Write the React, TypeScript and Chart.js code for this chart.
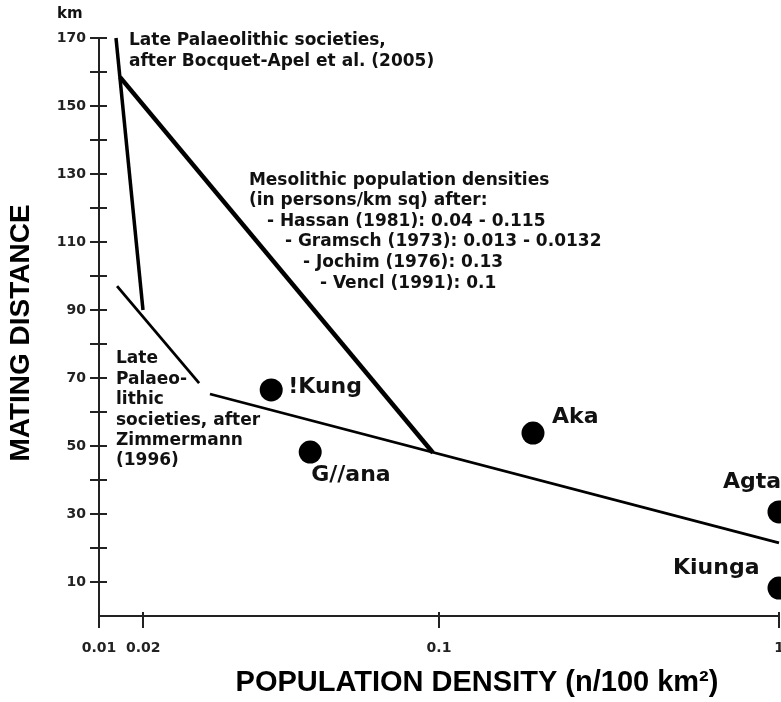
import React, { useEffect, useRef } from "react";
import { Chart, registerables } from "chart.js";

Chart.register(...registerables);

// ---- axis ticks ----
// The original figure puts its "0.02" tick well left of the true log position (~0.0135).
const xTickValues = [0.01, 0.0135, 0.1, 1];
const xTickLabels = ["0.01", "0.02", "0.1", "1"];
const yTickValues = [10, 20, 30, 40, 50, 60, 70, 80, 90, 100, 110, 120, 130, 140, 150, 160, 170];
const yTickLabels = ["10", "", "30", "", "50", "", "70", "", "90", "", "110", "", "130", "", "150", "", "170"];

// ---- lines (x = population density, y = mating distance km) ----
const bocquetX = [0.01122, 0.01347];
const bocquetY = [170, 90];
const mesolithicX = [0.01153, 0.096];
const mesolithicY = [158.5, 48];
const zimmermannX = [0.0113, 0.0197];
const zimmermannY = [97, 68.5];
const regressionX = [0.0212, 1];
const regressionY = [65.3, 21.5];

// ---- ethnographic societies ----
const societies = ["!Kung", "G//ana", "Aka", "Agta", "Kiunga"];
const societyDensity = [0.0321, 0.0418, 0.189, 1, 1];
const societyDistance = [66.5, 48.2, 53.8, 30.6, 8.2];

// ---- annotation text ----
const bocquetText = ["Late Palaeolithic societies,", "after Bocquet-Apel et al. (2005)"];
const mesolithicText = [
  "Mesolithic population densities",
  "(in persons/km sq) after:",
  "- Hassan (1981): 0.04 - 0.115",
  "- Gramsch (1973): 0.013 - 0.0132",
  "- Jochim (1976): 0.13",
  "- Vencl (1991): 0.1",
];
const zimmermannText = ["Late", "Palaeo-", "lithic", "societies, after", "Zimmermann", "(1996)"];

const xTitle = "POPULATION DENSITY (n/100 km\u00B2)";
const yTitle = "MATING DISTANCE";
const yUnit = "km";

const toPts = (xs: number[], ys: number[]) => xs.map((x, i) => ({ x, y: ys[i] }));

export default function App() {
  const ref = useRef<HTMLCanvasElement | null>(null);

  useEffect(() => {
    if (!ref.current) return;
    const annotFont = 'bold 17px "DejaVu Sans"';
    const labelOffsets = [
      [17, -3],
      [1, 23],
      [19, -16],
      [-56, -30],
      [-106, -20],
    ];
    const mesoIndent = [0, 0, 18, 36, 54, 71];

    const overlay = {
      id: "overlay",
      afterDatasetsDraw(chart: any) {
        const ctx = chart.ctx;
        const xs = chart.scales.x;
        const ys = chart.scales.y;
        const a = chart.chartArea;
        ctx.save();
        // crossing tick marks
        ctx.strokeStyle = "#222";
        ctx.lineWidth = 2;
        ys.ticks.forEach((t: any) => {
          const py = Math.round(ys.getPixelForValue(t.value));
          ctx.beginPath();
          ctx.moveTo(a.left - 9, py);
          ctx.lineTo(a.left + 8, py);
          ctx.stroke();
        });
        xs.ticks.forEach((t: any) => {
          const px = Math.round(xs.getPixelForValue(t.value));
          ctx.beginPath();
          ctx.moveTo(px, a.bottom - 4);
          ctx.lineTo(px, a.bottom + 12);
          ctx.stroke();
        });

        ctx.fillStyle = "#111";
        ctx.textBaseline = "middle";
        ctx.textAlign = "left";
        // unit
        ctx.font = 'bold 15px "DejaVu Sans"';
        ctx.fillText(yUnit, a.left - 42, a.top - 24);

        // annotation blocks
        ctx.font = annotFont;
        let bx = xs.getPixelForValue(0.01225);
        let by = ys.getPixelForValue(169.1);
        bocquetText.forEach((s, i) => ctx.fillText(s, bx, by + i * 21));
        bx = xs.getPixelForValue(0.0276);
        by = ys.getPixelForValue(128.2);
        mesolithicText.forEach((s, i) => ctx.fillText(s, bx + mesoIndent[i], by + i * 20.6));
        bx = xs.getPixelForValue(0.01122);
        by = ys.getPixelForValue(75.6);
        zimmermannText.forEach((s, i) => ctx.fillText(s, bx, by + i * 20.4));

        // society labels
        ctx.font = 'bold 22px "DejaVu Sans"';
        societies.forEach((s, i) => {
          const px = xs.getPixelForValue(societyDensity[i]);
          const py = ys.getPixelForValue(societyDistance[i]);
          ctx.fillText(s, px + labelOffsets[i][0], py + labelOffsets[i][1]);
        });

        // titles
        ctx.fillStyle = "#000";
        ctx.textAlign = "center";
        ctx.font = 'bold 29px "Liberation Sans", Arial, sans-serif';
        ctx.fillText(xTitle, (a.left + a.right) / 2 + 38, a.bottom + 67);
        ctx.font = 'bold 28px "Liberation Sans", Arial, sans-serif';
        ctx.save();
        ctx.translate(a.left - 78, (a.top + a.bottom) / 2 + 6);
        ctx.rotate(-Math.PI / 2);
        ctx.fillText(yTitle, 0, 0);
        ctx.restore();
        ctx.restore();
      },
    };

    const lineDs = (label: string, xsArr: number[], ysArr: number[], w: number) => ({
      label,
      data: toPts(xsArr, ysArr),
      showLine: true,
      borderColor: "#000",
      borderWidth: w,
      pointRadius: 0,
      pointHoverRadius: 0,
      fill: false,
      clip: false,
    });

    const chart = new Chart(ref.current, {
      type: "scatter",
      data: {
        datasets: [
          lineDs("Bocquet-Appel", bocquetX, bocquetY, 3.5),
          lineDs("Mesolithic", mesolithicX, mesolithicY, 4.5),
          lineDs("Zimmermann", zimmermannX, zimmermannY, 2.8),
          lineDs("Trend", regressionX, regressionY, 2.8),
          {
            label: "Societies",
            data: toPts(societyDensity, societyDistance),
            showLine: false,
            pointRadius: 11.5,
            pointBackgroundColor: "#000",
            pointBorderColor: "#000",
            pointBorderWidth: 0,
            clip: false,
          } as any,
        ],
      },
      options: {
        animation: false,
        responsive: false,
        layout: { autoPadding: false, padding: { left: 0, top: 38, right: 2, bottom: 0 } },
        plugins: { legend: { display: false }, tooltip: { enabled: false } },
        events: [],
        scales: {
          x: {
            type: "logarithmic",
            min: 0.01,
            max: 1,
            afterBuildTicks: (s: any) => {
              s.ticks = xTickValues.map((v) => ({ value: v }));
            },
            afterFit: (s: any) => {
              s.height = 86;
              s.paddingLeft = 0;
              s.paddingRight = 0;
            },
            ticks: {
              autoSkip: false,
              maxRotation: 0,
              padding: 24,
              color: "#222",
              font: { family: "DejaVu Sans", size: 14, weight: "bold" },
              callback: (_v: any, i: number) => xTickLabels[i],
            },
            grid: { display: true, drawOnChartArea: false, drawTicks: false },
            border: { display: true, color: "#222", width: 2 },
          },
          y: {
            type: "linear",
            min: 0,
            max: 170,
            afterBuildTicks: (s: any) => {
              s.ticks = yTickValues.map((v) => ({ value: v }));
            },
            afterFit: (s: any) => {
              s.width = 99;
              s.paddingTop = 0;
              s.paddingBottom = 0;
            },
            ticks: {
              autoSkip: false,
              padding: 13,
              color: "#222",
              font: { family: "DejaVu Sans", size: 14, weight: "bold" },
              callback: (_v: any, i: number) => yTickLabels[i],
            },
            grid: { display: true, drawOnChartArea: false, drawTicks: false },
            border: { display: true, color: "#222", width: 2 },
          },
        },
      } as any,
      plugins: [overlay],
    });
    return () => chart.destroy();
  }, []);

  return (
    <div style={{ position: "absolute", left: 0, top: 0, width: 781, height: 702, background: "#fff" }}>
      <canvas ref={ref} width={781} height={702} style={{ display: "block" }} />
    </div>
  );
}
